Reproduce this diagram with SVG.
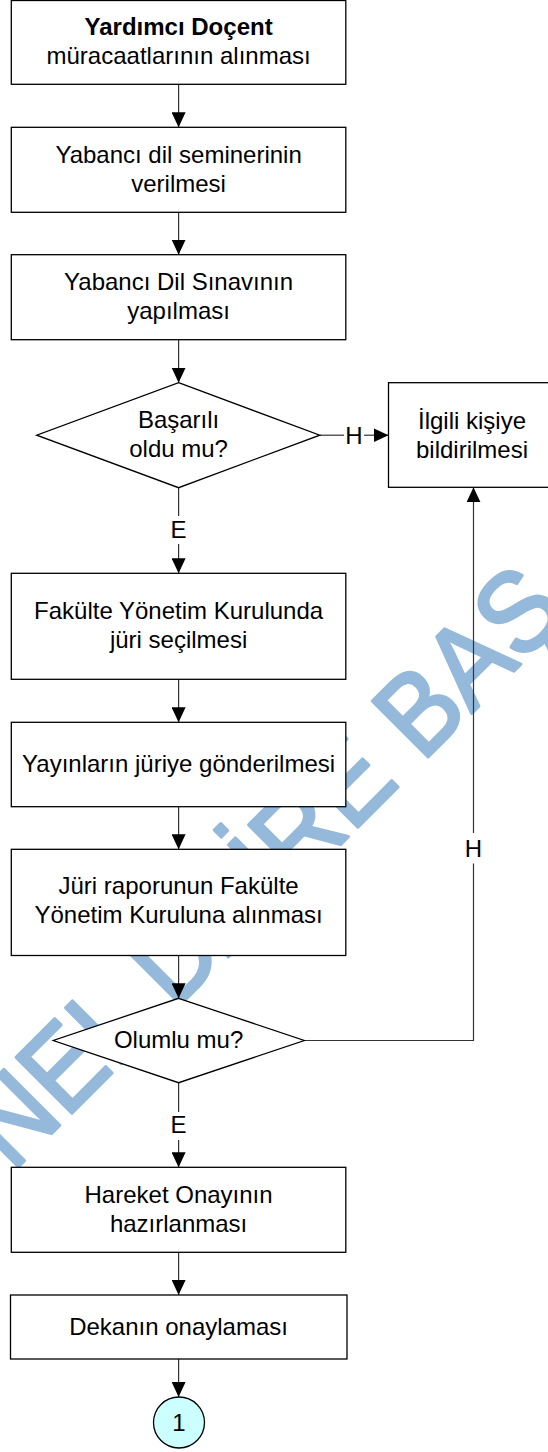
<svg xmlns="http://www.w3.org/2000/svg" width="548" height="1452" viewBox="0 0 548 1452">
<defs>
<style>
.box{fill:#fff;stroke:#000;stroke-width:1.3}
.t{font-family:"Liberation Sans",Arial,sans-serif;font-size:24px;fill:#000;text-anchor:middle}
.b{font-weight:bold}
.c{fill:none;stroke:#333;stroke-width:1.2}
.wm{font-family:"Liberation Sans",Arial,sans-serif;font-size:105px;fill:#95b9db;stroke:#95b9db;stroke-width:3;stroke-linejoin:round}
</style>
<marker id="ah" markerUnits="userSpaceOnUse" markerWidth="15" markerHeight="14" refX="15" refY="7" orient="auto">
<path d="M0,0 L15,7 L0,14 Z" fill="#000"/>
</marker>
</defs>
<rect width="548" height="1452" fill="#fff"/>
<g id="watermark" transform="translate(12.2 1172.8) rotate(-45) scale(1 1.09)">
<text class="wm" x="0" y="0">NEL DAİRE BAŞ</text>
</g>
<g id="connectors">
<line class="c" x1="178.6" y1="84.3" x2="178.6" y2="127.3" marker-end="url(#ah)"/>
<line class="c" x1="178.6" y1="212.3" x2="178.6" y2="254.7" marker-end="url(#ah)"/>
<line class="c" x1="178.6" y1="339.7" x2="178.6" y2="382.7" marker-end="url(#ah)"/>
<line class="c" x1="319.8" y1="435.2" x2="344" y2="435.2"/>
<line class="c" x1="364" y1="435.2" x2="388.5" y2="435.2" marker-end="url(#ah)"/>
<text class="t" x="354" y="443.5">H</text>
<line class="c" x1="178.6" y1="487.7" x2="178.6" y2="516"/>
<line class="c" x1="178.6" y1="544" x2="178.6" y2="573.3" marker-end="url(#ah)"/>
<text class="t" x="178.6" y="538">E</text>
<line class="c" x1="178.6" y1="679.3" x2="178.6" y2="722.3" marker-end="url(#ah)"/>
<line class="c" x1="178.6" y1="806.7" x2="178.6" y2="849.3" marker-end="url(#ah)"/>
<line class="c" x1="178.6" y1="955.5" x2="178.6" y2="998.3" marker-end="url(#ah)"/>
<polyline class="c" points="304.3,1040.5 473.5,1040.5 473.5,863.5"/>
<line class="c" x1="473.5" y1="833" x2="473.5" y2="487.3" marker-end="url(#ah)"/>
<text class="t" x="473.5" y="857">H</text>
<line class="c" x1="178.6" y1="1082.7" x2="178.6" y2="1112"/>
<line class="c" x1="178.6" y1="1140" x2="178.6" y2="1167.3" marker-end="url(#ah)"/>
<text class="t" x="178.6" y="1133">E</text>
<line class="c" x1="178.6" y1="1252.3" x2="178.6" y2="1295" marker-end="url(#ah)"/>
<line class="c" x1="178.6" y1="1359" x2="178.6" y2="1397" marker-end="url(#ah)"/>
</g>
<g id="n1">
<rect class="box" x="11.3" y="0.5" width="334.5" height="83.8"/>
<text class="t b" x="178.6" y="35">Yardımcı Doçent</text>
<text class="t" x="178.6" y="64">müracaatlarının alınması</text>
</g>
<g id="n2">
<rect class="box" x="11.3" y="127.3" width="334.5" height="85"/>
<text class="t" x="178.6" y="162.7">Yabancı dil seminerinin</text>
<text class="t" x="178.6" y="191.7">verilmesi</text>
</g>
<g id="n3">
<rect class="box" x="11.3" y="254.7" width="334.5" height="85"/>
<text class="t" x="178.6" y="290.1">Yabancı Dil Sınavının</text>
<text class="t" x="178.6" y="319.1">yapılması</text>
</g>
<g id="d1">
<polygon class="box" points="178.6,382.7 319.8,435.2 178.6,487.7 36.7,435.2"/>
<text class="t" x="178.6" y="428.3">Başarılı</text>
<text class="t" x="178.6" y="457.3">oldu mu?</text>
</g>
<g id="n4">
<rect class="box" x="388.5" y="382.7" width="170" height="104.6"/>
<text class="t" x="472" y="428.5">İlgili kişiye</text>
<text class="t" x="472" y="457.5">bildirilmesi</text>
</g>
<g id="n5">
<rect class="box" x="11.3" y="573.3" width="334.5" height="106"/>
<text class="t" x="178.6" y="619.3">Fakülte Yönetim Kurulunda</text>
<text class="t" x="178.6" y="648.3">jüri seçilmesi</text>
</g>
<g id="n6">
<rect class="box" x="11.3" y="722.3" width="334.5" height="84.4"/>
<text class="t" x="178.6" y="771.7">Yayınların jüriye gönderilmesi</text>
</g>
<g id="n7">
<rect class="box" x="11.3" y="849.3" width="334.5" height="106.2"/>
<text class="t" x="178.6" y="893.5">Jüri raporunun Fakülte</text>
<text class="t" x="178.6" y="922.5">Yönetim Kuruluna alınması</text>
</g>
<g id="d2">
<polygon class="box" points="178.6,998.3 304.3,1040.5 178.6,1082.7 53.3,1040.5"/>
<text class="t" x="178.6" y="1048">Olumlu mu?</text>
</g>
<g id="n8">
<rect class="box" x="11.3" y="1167.3" width="334.5" height="85"/>
<text class="t" x="178.6" y="1202.7">Hareket Onayının</text>
<text class="t" x="178.6" y="1231.7">hazırlanması</text>
</g>
<g id="n9">
<rect class="box" x="10.5" y="1295" width="336.5" height="64"/>
<text class="t" x="178.6" y="1335">Dekanın onaylaması</text>
</g>
<g id="c1">
<circle cx="179" cy="1422.5" r="25.5" fill="#ccffff" stroke="#000" stroke-width="1.3"/>
<text class="t" x="179" y="1431">1</text>
</g>
</svg>
